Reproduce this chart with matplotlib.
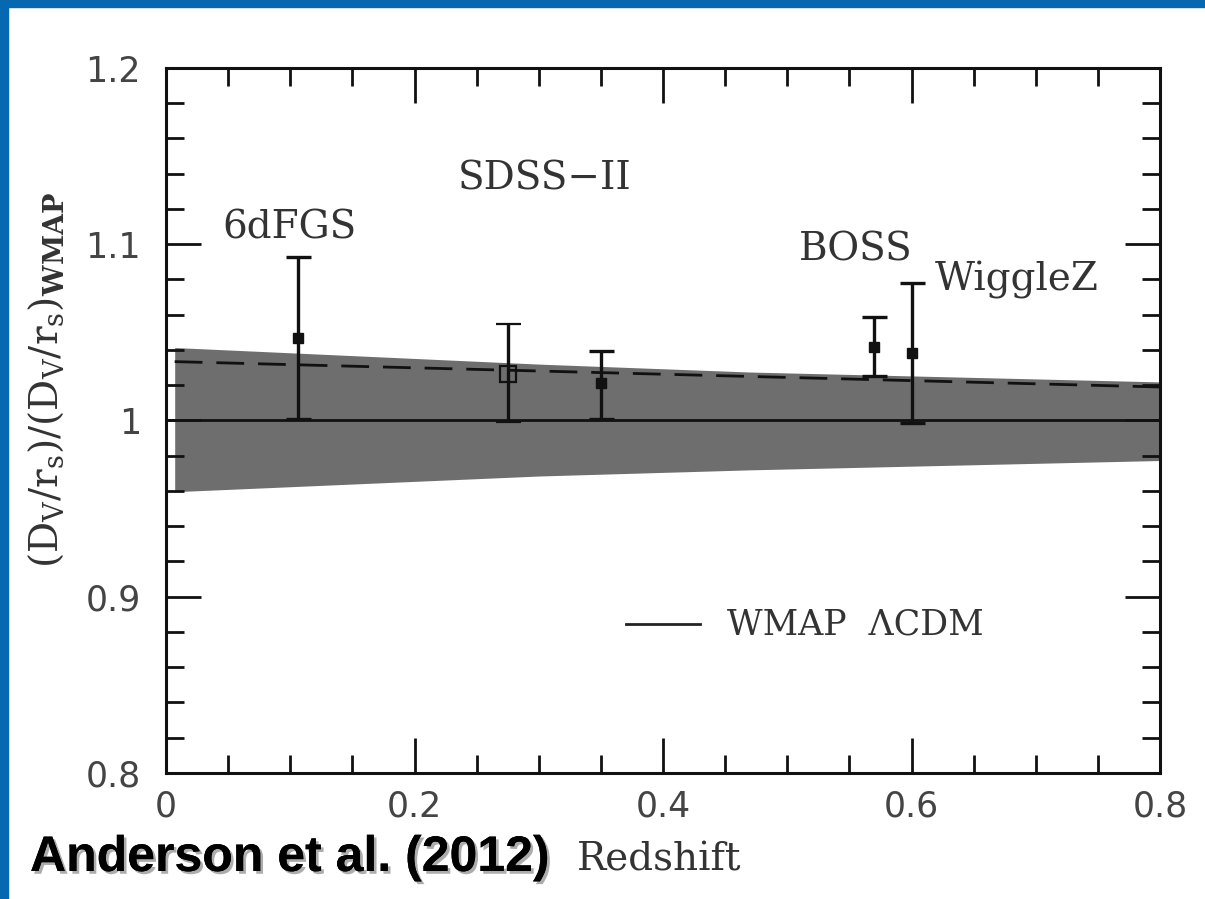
import matplotlib
matplotlib.use("Agg")
import matplotlib.pyplot as plt
import matplotlib.patheffects as pe
from matplotlib.ticker import MultipleLocator
import numpy as np

# --- data ---
z_filled = [0.106, 0.35, 0.57, 0.60]
r_filled = [1.047, 1.021, 1.0416, 1.0382]
up_filled = [1.0925, 1.0393, 1.0586, 1.0778]
lo_filled = [1.0008, 1.0008, 1.0252, 0.9986]

z_open = [0.275]
r_open = [1.0263]
up_open = [1.0546]
lo_open = [0.9991]

band_z = [0.007, 0.3, 0.47, 0.8]
band_hi = [1.0414, 1.032, 1.0275, 1.0219]
band_lo = [0.9596, 0.9685, 0.972, 0.9773]

dash_z = [0.007, 0.8]
dash_r = [1.0334, 1.019]

wmap_z = [0.0, 0.8]
wmap_r = [1.0, 1.0]

labels = ["6dFGS", "SDSS\u2212II", "BOSS", "WiggleZ"]
label_x = [0.045, 0.235, 0.509, 0.619]
label_y = [1.1035, 1.1308, 1.091, 1.074]

xticks = [0, 0.2, 0.4, 0.6, 0.8]
xticklabels = ["0", "0.2", "0.4", "0.6", "0.8"]
yticks = [0.8, 0.9, 1.0, 1.1, 1.2]
yticklabels = ["0.8", "0.9", "1", "1.1", "1.2"]

fig = plt.figure(figsize=(12.05, 8.99), dpi=100)
fig.patch.set_facecolor("white")

# slide frame (blue bars top and left)
fig.patches.append(plt.Rectangle((0, 1 - 7 / 899), 1, 7 / 899, transform=fig.transFigure,
                                 color="#0568B0", zorder=0))
fig.patches.append(plt.Rectangle((0, 0), 8 / 1205, 1, transform=fig.transFigure,
                                 color="#0568B0", zorder=0))

ax = fig.add_axes([166 / 1205, 1 - 773 / 899, (1160 - 166) / 1205, (773 - 68) / 899])
ax.set_xlim(0, 0.8)
ax.set_ylim(0.8, 1.2)

ax.fill_between(band_z, band_lo, band_hi, color="#6e6e6e", lw=0, zorder=1)
ax.plot(dash_z, dash_r, color="#111111", lw=2, dashes=(10, 5), zorder=2)
ax.plot(wmap_z, wmap_r, color="#111111", lw=2, zorder=2)

yerr_f = [np.array(r_filled) - np.array(lo_filled), np.array(up_filled) - np.array(r_filled)]
ax.errorbar(z_filled, r_filled, yerr=yerr_f, fmt="s", color="#111111", ms=7,
            elinewidth=2.4, capsize=9, capthick=2.4, zorder=3)
yerr_o = [np.array(r_open) - np.array(lo_open), np.array(up_open) - np.array(r_open)]
ax.errorbar(z_open, r_open, yerr=yerr_o, fmt="s", color="#111111", ms=12,
            mfc="none", mew=1.6, elinewidth=2.4, capsize=9, capthick=2.4, zorder=3)

for t, x, y in zip(labels, label_x, label_y):
    ax.text(x, y, t, fontsize=28, family="DejaVu Serif", color="#333333",
            ha="left", va="baseline")

# legend
ax.plot([0.370, 0.430], [0.8845, 0.8845], color="#222222", lw=2)
ax.text(0.4515, 0.8845, "WMAP  \u039bCDM", fontsize=25, family="DejaVu Serif",
        color="#333333", ha="left", va="center")

for s in ax.spines.values():
    s.set_linewidth(2.2)
    s.set_color("#111111")

ax.set_xticks(xticks)
ax.set_xticklabels(xticklabels)
ax.set_yticks(yticks)
ax.set_yticklabels(yticklabels)
ax.xaxis.set_minor_locator(MultipleLocator(0.05))
ax.yaxis.set_minor_locator(MultipleLocator(0.02))
ax.tick_params(which="both", direction="in", top=True, right=True, color="#111111")
ax.tick_params(which="major", length=25, width=2)
ax.tick_params(which="minor", length=13, width=2)
ax.tick_params(axis="x", which="major", pad=12)
ax.tick_params(axis="y", which="major", pad=18)
for lab in ax.get_xticklabels() + ax.get_yticklabels():
    lab.set_fontsize(25)
    lab.set_color("#444444")
    lab.set_family("DejaVu Sans")

plt.rcParams["mathtext.fontset"] = "dejavuserif"
fig.text(46 / 1205, 1 - 380 / 899,
         r"$(\mathrm{D_V/r_s})/(\mathrm{D_V/r_s})_{\mathbf{WMAP}}$",
         rotation=90, fontsize=28, color="#333333", ha="center", va="center")

fig.text(577 / 1205, 1 - 860 / 899, "Redshift", fontsize=28, family="DejaVu Serif",
         color="#333333", ha="left", va="center")

fig.text(30 / 1205, 1 - 858 / 899, "Anderson et al. (2012)", fontsize=36,
         family="Liberation Sans", weight="bold", color="black", ha="left", va="center",
         path_effects=[pe.withSimplePatchShadow(offset=(2, -2), shadow_rgbFace="#999999", alpha=0.8),
                       pe.Normal()])

fig.savefig("out.png", dpi=100, facecolor="white")
